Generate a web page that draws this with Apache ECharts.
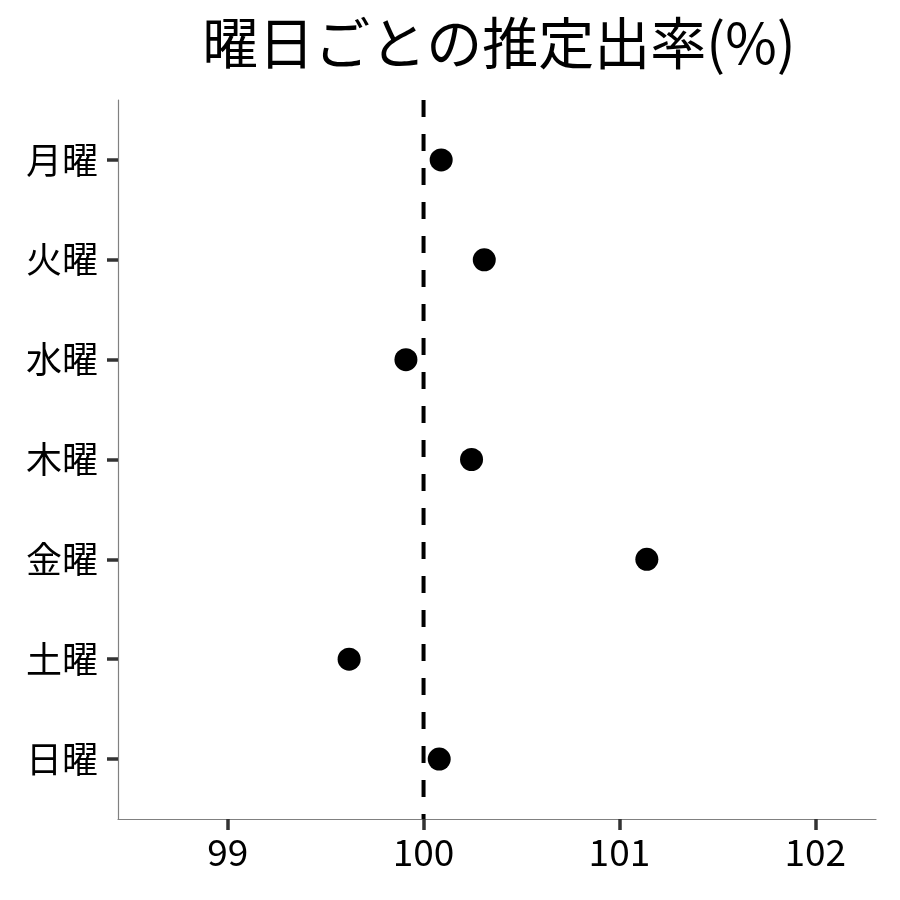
<!DOCTYPE html>
<html>
<head>
<meta charset="utf-8">
<script src="https://cdn.jsdelivr.net/npm/echarts@6/dist/echarts.min.js"></script>
<style>html,body{margin:0;padding:0;background:#fff}#c{width:900px;height:900px}</style>
</head>
<body>
<div id="c"></div>
<script>
var days = ['月曜','火曜','水曜','木曜','金曜','土曜','日曜'];
var rates = [100.09, 100.31, 99.91, 100.245, 101.14, 99.62, 100.08];
var xTicks = [99, 100, 101, 102];
var refValue = 100;
var FONT = '"Noto Sans CJK JP", "Noto Sans", sans-serif';

var chart = echarts.init(document.getElementById('c'));
var points = days.map(function (d, i) { return [rates[i], i]; });
chart.setOption({
  animation: false,
  backgroundColor: '#fff',
  title: {
    text: '曜日ごとの推定出率(%)',
    left: 494, top: 10, textAlign: 'center',
    textStyle: { fontFamily: FONT, fontSize: 56, fontWeight: 'normal', color: '#000' }
  },
  grid: { left: 118, right: 24, top: 100, bottom: 81, containLabel: false },
  xAxis: {
    type: 'value', min: 98.44, max: 102.31,
    splitLine: { show: false },
    axisLine: { show: true, onZero: false, lineStyle: { color: '#808080', width: 1.2 } },
    axisTick: { show: true, length: 11, customValues: xTicks, lineStyle: { color: '#333', width: 3.5 } },
    axisLabel: { customValues: xTicks, margin: 14, fontFamily: FONT, fontSize: 37, color: '#000' }
  },
  yAxis: {
    type: 'value', inverse: true, min: -0.6, max: 6.6,
    splitLine: { show: false },
    axisLine: { show: true, onZero: false, lineStyle: { color: '#808080', width: 1.2 } },
    axisTick: { show: true, length: 11, customValues: [0,1,2,3,4,5,6], lineStyle: { color: '#333', width: 3.5 } },
    axisLabel: {
      customValues: [0,1,2,3,4,5,6], margin: 20, fontFamily: FONT, fontSize: 36, color: '#000',
      formatter: function (v) { return days[Math.round(v)] || ''; }
    }
  },
  series: [
    {
      type: 'line', silent: true, symbol: 'none',
      data: [[refValue, -0.6], [refValue, 6.6]],
      lineStyle: { color: '#000', width: 4, type: [17, 17] }
    },
    {
      type: 'scatter', symbolSize: 23, data: points,
      itemStyle: { color: '#000', opacity: 1 }
    }
  ]
});
</script>
</body>
</html>
